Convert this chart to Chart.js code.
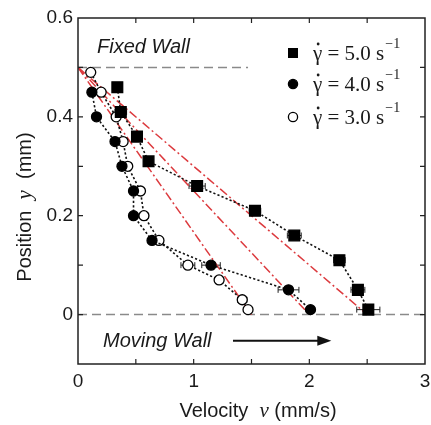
<!DOCTYPE html>
<html>
<head>
<meta charset="utf-8">
<script src="https://cdn.jsdelivr.net/npm/chart.js@4/dist/chart.umd.min.js"></script>
<style>
  html, body { margin: 0; padding: 0; background: #fff; }
  #wrap { width: 431px; height: 425px; position: relative; }
</style>
</head>
<body>
<div id="wrap"><canvas id="velocityChart"></canvas></div>
<script>
// Measured velocity profiles (v in mm/s, y in mm)
const velocity5 = [0.34, 0.37, 0.51, 0.61, 1.03, 1.53, 1.87, 2.26, 2.42, 2.51];
const position5 = [0.46, 0.41, 0.36, 0.31, 0.26, 0.21, 0.16, 0.11, 0.05, 0.01];
const error5    = [0, 0.05, 0.03, 0.03, 0.07, 0.05, 0.06, 0.05, 0.06, 0.10];

const velocity4 = [0.12, 0.16, 0.32, 0.38, 0.48, 0.48, 0.64, 1.15, 1.82, 2.01];
const position4 = [0.45, 0.40, 0.35, 0.30, 0.25, 0.20, 0.15, 0.10, 0.05, 0.01];
const error4    = [0, 0, 0, 0, 0.03, 0, 0.03, 0.08, 0.09, 0];

const velocity3 = [0.11, 0.20, 0.33, 0.39, 0.43, 0.54, 0.57, 0.70, 0.95, 1.22, 1.42, 1.47];
const position3 = [0.49, 0.45, 0.40, 0.35, 0.30, 0.25, 0.20, 0.15, 0.10, 0.07, 0.03, 0.01];
const error3    = [0, 0, 0, 0, 0, 0.03, 0.04, 0, 0.06, 0, 0.04, 0];

// Linear (Couette) profiles: from fixed wall to moving wall velocity
const fitWallVelocity = [2.5, 2.0, 1.5];
const fitPosition = [0.5, 0];

// Wall markers
const fixedWallX = [0, 1.47];
const movingWallX = [0, 3];
const fixedWallY = 0.5;
const movingWallY = 0;
const arrowX = [1.34, 2.19];
const arrowY = -0.053;

const legendLabels = ['5.0', '4.0', '3.0'];
const xTickLabels = [0, 1, 2, 3];
const yTickLabels = [0, 0.2, 0.4, 0.6];

const toPoints = (xs, ys) => xs.map((x, i) => ({ x: x, y: ys[i] }));

const SANS = "'Liberation Sans', Arial, sans-serif";
const SERIF = "'Liberation Serif', 'Times New Roman', serif";
const INK = '#1a1a1a';

const markerStyles = [
    { style: 'rect', radius: 7.6, fill: '#000' },
    { style: 'circle', radius: 5, fill: '#000' },
    { style: 'circle', radius: 5, fill: '#fff' }
];

const seriesErrors = [
    { xs: velocity5, ys: position5, err: error5 },
    { xs: velocity4, ys: position4, err: error4 },
    { xs: velocity3, ys: position3, err: error3 }
];

function markerDataset(xs, ys, m) {
    return {
        data: toPoints(xs, ys),
        showLine: true,
        borderColor: '#111',
        borderWidth: 1.6,
        borderDash: [2.2, 2.2],
        pointStyle: m.style,
        pointRadius: m.radius,
        pointBackgroundColor: m.fill,
        pointBorderColor: '#000',
        pointBorderWidth: 1.3
    };
}

function fitDataset(vWall) {
    return {
        data: toPoints([0, vWall], fitPosition),
        showLine: true,
        borderColor: '#dc3a3e',
        borderWidth: 1.5,
        borderDash: [9, 3, 2, 3],
        pointRadius: 0
    };
}

function wallDataset(xs, y) {
    return {
        data: toPoints(xs, [y, y]),
        showLine: true,
        borderColor: '#8a8a8a',
        borderWidth: 1.5,
        borderDash: [9, 5],
        pointRadius: 0
    };
}

const decorPlugin = {
    id: 'decor',
    beforeDatasetsDraw(chart) {
        const { ctx, scales: { x, y } } = chart;
        ctx.save();
        ctx.strokeStyle = '#222';
        ctx.lineWidth = 1;
        seriesErrors.forEach(s => {
            s.xs.forEach((v, i) => {
                if (!s.err[i]) return;
                const py = y.getPixelForValue(s.ys[i]);
                const x0 = x.getPixelForValue(v - s.err[i]);
                const x1 = x.getPixelForValue(v + s.err[i]);
                ctx.beginPath();
                ctx.moveTo(x0, py); ctx.lineTo(x1, py);
                ctx.moveTo(x0, py - 3); ctx.lineTo(x0, py + 3);
                ctx.moveTo(x1, py - 3); ctx.lineTo(x1, py + 3);
                ctx.stroke();
            });
        });
        ctx.restore();
    },
    afterDraw(chart) {
        const { ctx, chartArea: a, scales: { x, y } } = chart;
        ctx.save();

        // frame
        ctx.strokeStyle = '#222';
        ctx.lineWidth = 1.5;
        ctx.strokeRect(a.left, a.top, a.right - a.left, a.bottom - a.top);

        // inward ticks
        ctx.lineWidth = 1.2;
        ctx.beginPath();
        for (let v = 0.5; v < 3; v += 0.5) {
            const px = x.getPixelForValue(v);
            ctx.moveTo(px, a.bottom); ctx.lineTo(px, a.bottom - 5);
            ctx.moveTo(px, a.top); ctx.lineTo(px, a.top + 5);
        }
        for (let k = 0; k <= 5; k++) {
            const py = y.getPixelForValue(k / 10);
            ctx.moveTo(a.left, py); ctx.lineTo(a.left + 5, py);
            ctx.moveTo(a.right, py); ctx.lineTo(a.right - 5, py);
        }
        ctx.stroke();

        // wall labels
        ctx.fillStyle = INK;
        ctx.textBaseline = 'middle';
        ctx.textAlign = 'left';
        ctx.font = 'italic 20px ' + SANS;
        ctx.fillText('Fixed Wall', 97, 47);
        ctx.fillText('Moving Wall', 103, 341);

        // arrow
        const ay = y.getPixelForValue(arrowY);
        const ax0 = x.getPixelForValue(arrowX[0]);
        const ax1 = x.getPixelForValue(arrowX[1]);
        ctx.strokeStyle = '#111';
        ctx.lineWidth = 2;
        ctx.beginPath();
        ctx.moveTo(ax0, ay); ctx.lineTo(ax1 - 10, ay);
        ctx.stroke();
        ctx.fillStyle = '#111';
        ctx.beginPath();
        ctx.moveTo(ax1, ay);
        ctx.lineTo(ax1 - 14, ay - 5);
        ctx.lineTo(ax1 - 14, ay + 5);
        ctx.closePath();
        ctx.fill();

        // legend
        const rowsY = [53, 84, 117];
        legendLabels.forEach((lab, i) => {
            const m = markerStyles[i];
            const my = rowsY[i];
            ctx.fillStyle = m.fill;
            ctx.strokeStyle = '#000';
            ctx.lineWidth = 1.3;
            if (m.style === 'rect') {
                ctx.fillRect(288, my - 5, 10, 10);
            } else {
                ctx.beginPath();
                ctx.arc(293, my, 4.6, 0, Math.PI * 2);
                ctx.fill();
                ctx.stroke();
            }
            ctx.fillStyle = INK;
            ctx.textAlign = 'left';
            ctx.textBaseline = 'alphabetic';
            ctx.font = '21px ' + SERIF;
            let tx = 313;
            const base = my + 7;
            ctx.fillText('\u03B3', tx, base);
            const gw = ctx.measureText('\u03B3').width;
            ctx.beginPath();
            ctx.arc(tx + gw / 2 + 0.5, base - 16, 1.4, 0, Math.PI * 2);
            ctx.fill();
            tx += gw;
            const main = ' = ' + lab + ' s';
            ctx.fillText(main, tx, base);
            tx += ctx.measureText(main).width + 1;
            ctx.font = '14px ' + SERIF;
            ctx.fillText('\u22121', tx, base - 12);
        });

        // axis titles
        ctx.fillStyle = INK;
        ctx.textBaseline = 'middle';
        const xParts = [
            { t: 'Velocity', f: '20px ' + SANS },
            { t: '  ', f: '20px ' + SANS },
            { t: 'v', f: 'italic 21px ' + SERIF },
            { t: ' (mm/s)', f: '20px ' + SANS }
        ];
        drawParts(ctx, xParts, 258, 411);

        ctx.translate(25, 207);
        ctx.rotate(-Math.PI / 2);
        const yParts = [
            { t: 'Position', f: '20px ' + SANS },
            { t: '  ', f: '20px ' + SANS },
            { t: 'y', f: 'italic 21px ' + SERIF },
            { t: '  (mm)', f: '20px ' + SANS }
        ];
        drawParts(ctx, yParts, 0, 0);
        ctx.restore();
    }
};

function drawParts(ctx, parts, cx, cy) {
    let total = 0;
    parts.forEach(p => { ctx.font = p.f; p.w = ctx.measureText(p.t).width; total += p.w; });
    let px = cx - total / 2;
    ctx.textAlign = 'left';
    parts.forEach(p => { ctx.font = p.f; ctx.fillText(p.t, px, cy); px += p.w; });
}

const datasets = [
    markerDataset(velocity5, position5, markerStyles[0]),
    markerDataset(velocity4, position4, markerStyles[1]),
    markerDataset(velocity3, position3, markerStyles[2]),
    ...fitWallVelocity.map(fitDataset),
    wallDataset(fixedWallX, fixedWallY),
    wallDataset(movingWallX, movingWallY)
];

new Chart(document.getElementById('velocityChart'), {
    type: 'scatter',
    data: { datasets: datasets },
    options: {
        responsive: true,
        maintainAspectRatio: false,
        animation: false,
        events: [],
        layout: { autoPadding: false, padding: { top: 18, right: 6, left: 0, bottom: 0 } },
        plugins: {
            legend: { display: false },
            tooltip: { enabled: false }
        },
        scales: {
            x: {
                type: 'linear',
                min: 0,
                max: 3,
                afterFit: s => { s.height = 61; s.paddingRight = 0; s.paddingLeft = 0; },
                afterBuildTicks: s => { s.ticks = xTickLabels.map(v => ({ value: v })); },
                grid: { display: false, drawTicks: false },
                border: { display: false },
                ticks: {
                    padding: 6,
                    color: INK,
                    font: { family: SANS, size: 19 },
                    maxRotation: 0,
                    callback: v => String(v)
                }
            },
            y: {
                type: 'linear',
                min: -0.1,
                max: 0.6,
                afterFit: s => { s.width = 78; s.paddingTop = 0; s.paddingBottom = 0; },
                afterBuildTicks: s => { s.ticks = yTickLabels.map(v => ({ value: v })); },
                grid: { display: false, drawTicks: false },
                border: { display: false },
                ticks: {
                    padding: 5,
                    color: INK,
                    font: { family: SANS, size: 19 },
                    callback: v => (v === 0 ? '0' : v.toFixed(1))
                }
            }
        }
    },
    plugins: [decorPlugin]
});
</script>
</body>
</html>
